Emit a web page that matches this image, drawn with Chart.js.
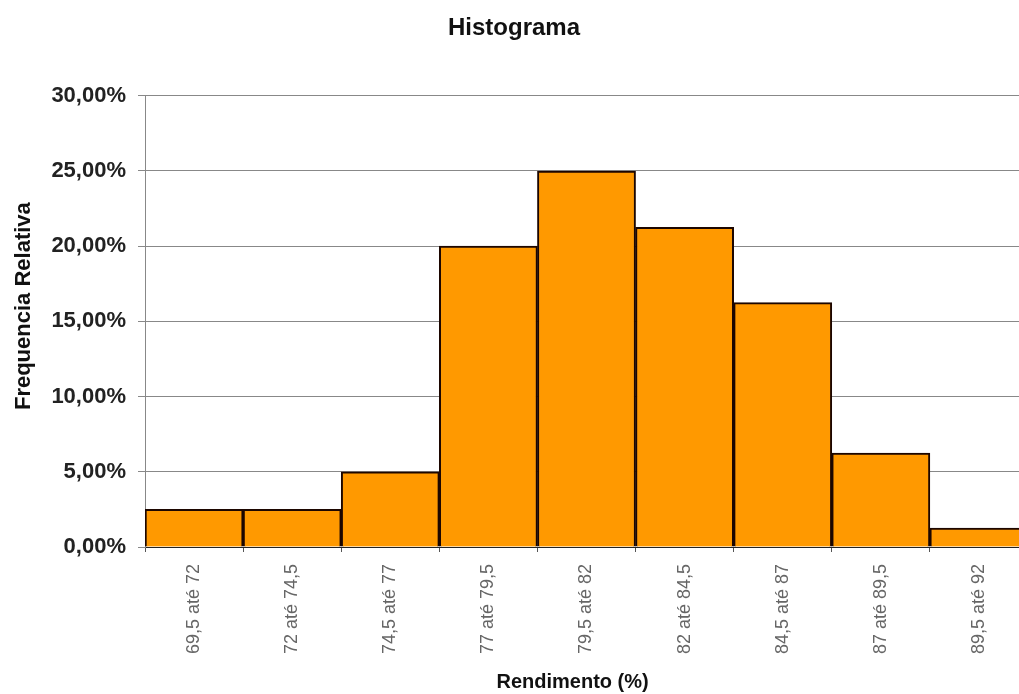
<!DOCTYPE html>
<html>
<head>
<meta charset="utf-8">
<script src="https://cdn.jsdelivr.net/npm/chart.js@4"></script>
<style>
  html, body { margin: 0; padding: 0; background: #fff; overflow: hidden; }
</style>
</head>
<body>
<canvas id="histograma" width="1030" height="694"></canvas>
<script>
// classes de rendimento
var classes = ['69,5 até 72', '72 até 74,5', '74,5 até 77', '77 até 79,5', '79,5 até 82',
               '82 até 84,5', '84,5 até 87', '87 até 89,5', '89,5 até 92'];
// frequencia relativa (%)
var freqRelativa = [2.5, 2.5, 5, 20, 25, 21.25, 16.25, 6.25, 1.25];
var yTicks = [0, 5, 10, 15, 20, 25, 30];

var laranja = '#FF9900';
var fonte = 'Liberation Sans, Arial';

var ctx = document.getElementById('histograma');
var chart = new Chart(ctx, {
    type: 'bar',
    data: {
        labels: classes,
        datasets: [{
            label: 'Frequencia Relativa',
            data: freqRelativa,
            backgroundColor: laranja,
            borderColor: '#1c0600',
            borderWidth: 2,
            barPercentage: 1,
            categoryPercentage: 1
        }]
    },
    options: {
        responsive: false,
        animation: false,
        layout: { padding: { top: 0, right: 2, bottom: 0, left: 0 } },
        plugins: {
            legend: { display: false },
            tooltip: { enabled: false },
            title: {
                display: true,
                text: 'Histograma',
                color: '#111',
                font: { family: fonte, size: 24, weight: 'bold' },
                padding: { top: 14, bottom: 53 }
            }
        },
        scales: {
            x: {
                grid: { offset: true, drawOnChartArea: false, tickLength: 5, color: '#555' },
                border: { color: '#222', width: 1 },
                ticks: {
                    minRotation: 90, maxRotation: 90, padding: 12,
                    color: '#666',
                    font: { family: fonte, size: 18 }
                },
                title: {
                    display: true,
                    // espacos finais deslocam o titulo um pouco para a esquerda
                    text: 'Rendimento (%)     ',
                    color: '#111',
                    font: { family: fonte, size: 20, weight: 'bold' },
                    padding: { top: 0, bottom: 0 }
                },
                afterFit: function (s) { s.height = 147; }
            },
            y: {
                min: 0, max: 30,
                afterBuildTicks: function (s) {
                    s.ticks = yTicks.map(function (v) { return { value: v }; });
                },
                grid: { color: '#888', tickLength: 7 },
                border: { color: '#888', width: 1 },
                ticks: {
                    padding: 12,
                    color: '#222',
                    font: { family: fonte, size: 22, weight: 'bold' },
                    callback: function (v) { return v.toFixed(2).replace('.', ',') + '%'; }
                },
                title: {
                    display: true,
                    text: '     Frequencia Relativa',
                    color: '#111',
                    font: { family: fonte, size: 22, weight: 'bold' },
                    padding: { top: 11, bottom: 0 }
                },
                afterFit: function (s) { s.width = 145; }
            }
        }
    }
});
</script>
</body>
</html>
